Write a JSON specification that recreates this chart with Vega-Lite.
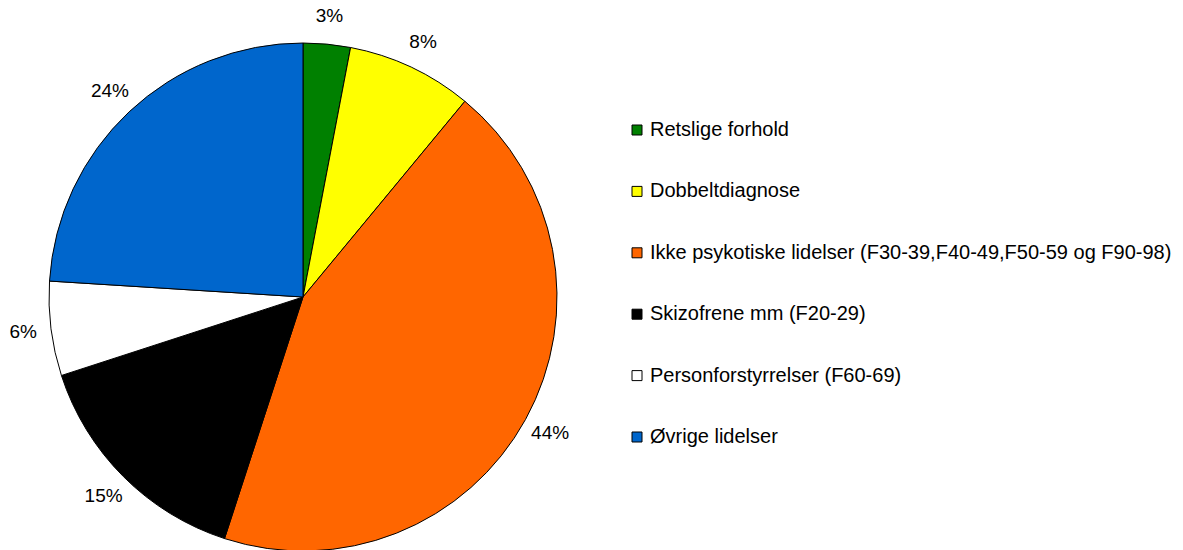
{
  "$schema": "https://vega.github.io/schema/vega-lite/v6.json",
  "width": 606,
  "height": 594,
  "padding": 0,
  "autosize": {"type": "pad"},
  "background": "white",
  "config": {"view": {"stroke": null}, "font": "Liberation Sans"},
  "data": {
    "values": [
      {"cat": "Retslige forhold", "value": 3, "order": 1, "label": "3%"},
      {"cat": "Dobbeltdiagnose", "value": 8, "order": 2, "label": "8%"},
      {"cat": "Ikke psykotiske lidelser (F30-39,F40-49,F50-59 og F90-98)", "value": 44, "order": 3, "label": "44%"},
      {"cat": "Skizofrene mm (F20-29)", "value": 15, "order": 4, "label": "15%"},
      {"cat": "Personforstyrrelser (F60-69)", "value": 6, "order": 5, "label": "6%"},
      {"cat": "Øvrige lidelser", "value": 24, "order": 6, "label": "24%"}
    ]
  },
  "encoding": {
    "theta": {"field": "value", "type": "quantitative", "stack": true},
    "order": {"field": "order", "type": "quantitative"}
  },
  "layer": [
    {
      "mark": {"type": "arc", "outerRadius": 254, "stroke": "black", "strokeWidth": 1},
      "encoding": {
        "color": {
          "field": "cat",
          "type": "nominal",
          "sort": null,
          "scale": {
            "domain": ["Retslige forhold", "Dobbeltdiagnose", "Ikke psykotiske lidelser (F30-39,F40-49,F50-59 og F90-98)", "Skizofrene mm (F20-29)", "Personforstyrrelser (F60-69)", "Øvrige lidelser"],
            "range": ["#008000", "#FFFF00", "#FF6600", "#000000", "#FFFFFF", "#0066CC"]
          },
          "legend": {
            "title": null,
            "orient": "none",
            "legendX": 627,
            "legendY": 120,
            "symbolType": "square",
            "symbolSize": 100,
            "symbolStrokeColor": "black",
            "symbolStrokeWidth": 1,
            "symbolOpacity": 1,
            "labelFont": "Liberation Sans",
            "labelFontSize": 20,
            "labelColor": "black",
            "labelOffset": 3,
            "labelLimit": 700,
            "rowPadding": 41.4,
            "padding": 0
          }
        }
      }
    },
    {
      "mark": {"type": "text", "radius": 282, "fontSize": 19, "font": "Liberation Sans", "color": "black", "align": "center", "baseline": "middle"},
      "encoding": {
        "text": {"field": "label", "type": "nominal"}
      }
    }
  ]
}
